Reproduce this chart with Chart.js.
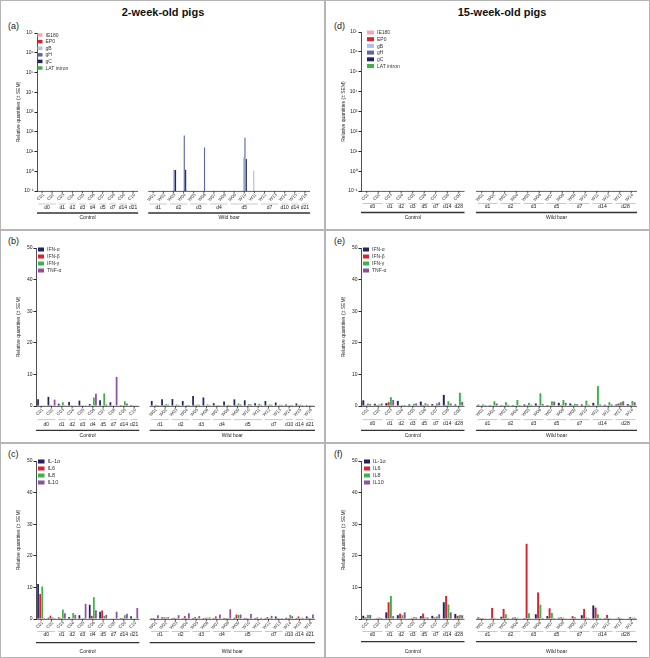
<!DOCTYPE html>
<html>
<head>
<meta charset="utf-8">
<script src="https://cdn.jsdelivr.net/npm/chart.js@4.4.1/dist/chart.umd.min.js"></script>
<style>
  body { margin: 0; background: #fff; font-family: "Liberation Sans", Arial, sans-serif; }
  #fig { position: relative; width: 650px; height: 658px; overflow: hidden; background: #fff; }
  .box { position: absolute; }
  .rule { position: absolute; background: #b5b5b5; }
  .ttl { position: absolute; font-weight: bold; font-size: 11px; color: #111; transform: translateX(-50%); white-space: nowrap; }
  .lab { position: absolute; font-size: 9px; color: #222; }
</style>
</head>
<body>
<div id="fig">
  <div class="rule" style="left:0;top:0;width:650px;height:1px"></div>
  <div class="rule" style="left:0;top:657px;width:650px;height:1px"></div>
  <div class="rule" style="left:0;top:0;width:1px;height:658px"></div>
  <div class="rule" style="left:649px;top:0;width:1px;height:658px"></div>
  <div class="rule" style="left:324px;top:0;width:1.5px;height:658px"></div>
  <div class="rule" style="left:0;top:229px;width:650px;height:1.5px"></div>
  <div class="rule" style="left:0;top:442px;width:650px;height:1.5px"></div>

  <div class="ttl" style="left:163px;top:6px">2-week-old pigs</div>
  <div class="ttl" style="left:502px;top:6px">15-week-old pigs</div>
  <div class="lab" style="left:8px;top:21px">(a)</div>
  <div class="lab" style="left:334px;top:21px">(d)</div>
  <div class="lab" style="left:8px;top:236px">(b)</div>
  <div class="lab" style="left:334px;top:236px">(e)</div>
  <div class="lab" style="left:8px;top:449px">(c)</div>
  <div class="lab" style="left:334px;top:449px">(f)</div>

  <div class="box" id="pa"></div>
  <div class="box" id="pd"></div>
  <div class="box" id="pb"></div>
  <div class="box" id="pe"></div>
  <div class="box" id="pc"></div>
  <div class="box" id="pf"></div>
</div>
<script>
// categories (the '' slot is the gap between Control and Wild boar)
var labels2 = ['C01','C02','C03','C04','C05','C06','C07','C08','C09','C10','',
  'W01','W02','W03','W04','W05','W06','W07','W08','W09','W10','W11','W12','W13','W14','W15','W16'];
var days2 = ['d0','d0','d1','d2','d3','d4','d5','d7','d14','d21','',
  'd1','d1','d2','d2','d3','d3','d4','d4','d5','d5','d5','d7','d7','d10','d14','d21'];
var labels15 = ['C01','C02','C03','C04','C05','C06','C07','C08','C09','',
  'W01','W02','W03','W04','W05','W06','W07','W08','W09','W10','W11','W12','W13','W14'];
var days15 = ['d0','d0','d1','d2','d3','d5','d7','d14','d28','',
  'd1','d1','d2','d2','d3','d3','d5','d5','d7','d7','d14','d14','d28','d28'];
var groupNames = ['Control', 'Wild boar'];
var logTicks = [0.1, 1, 10, 100, 1e3, 1e4, 1e5, 1e6, 1e7];

// (a) viral genes, 2-week-old pigs
var a_ie180 = [];
var a_ep0 = [];
var a_gB = [null,null,null,null,null,null,null,null,null,null,null,
  null,null,null,null,null,null,null,null,null,4.9,1.1,null,null,null,null,null];
var a_gH = [null,null,null,null,null,null,null,null,null,null,null,
  null,null,1.2,65,null,16,null,null,null,50,null,null,null,null,null,null];
var a_gC = [null,null,null,null,null,null,null,null,null,null,null,
  null,null,1.15,1.2,null,null,null,null,null,4.2,null,null,null,null,null,null];
var a_lat = [];

// (d) viral genes, 15-week-old pigs (nothing detected)
var d_ie180 = [], d_ep0 = [], d_gB = [], d_gH = [], d_gC = [], d_lat = [];

// (b) interferons / TNF, 2-week-old
var b_ifna = [2.1,2.9,0.7,1.3,1.7,0.6,1.8,1.2,0.3,0.3,null,1.6,2.1,2.2,1.6,3.2,2.7,0.9,1.4,2.1,1.8,0.9,1.6,1.1,0.5,0.8,0.3];
var b_ifnb = [0.2,0.3,0.2,0.1,0.1,0.1,0.2,0.2,0.2,0.1,null,0.2,0.3,0.2,0.2,0.3,0.2,0.1,0.2,0.3,0.2,0.2,0.2,0.2,0.2,0.3,0.2];
var b_ifng = [0.1,0.2,1.2,0.2,0.1,2.7,4.0,0.2,1.5,0.2,null,0.4,0.6,0.5,0.3,0.4,0.5,0.3,0.4,0.8,0.6,0.7,0.5,0.4,0.3,0.4,0.3];
var b_tnfa = [0.1,2.0,0.1,0.1,0.1,3.9,0.5,9.2,0.8,0.1,null,0.3,0.4,0.3,0.3,0.4,0.3,0.2,0.3,0.5,0.5,0.4,0.4,0.3,0.3,0.3,0.2];

// (e) interferons / TNF, 15-week-old
var e_ifna = [1.8,0.7,0.9,1.6,0.5,1.4,0.6,3.5,0.5,null,0.4,0.3,0.3,0.3,0.5,0.8,0.3,1.0,0.8,0.5,1.0,0.4,0.5,0.6];
var e_ifnb = [0.3,0.3,1.2,0.2,0.2,0.3,0.2,0.3,0.2,null,0.2,0.2,0.2,0.2,0.3,0.2,0.2,0.3,0.3,0.2,0.2,0.2,0.8,0.3];
var e_ifng = [0.8,0.5,2.8,0.3,0.7,0.9,0.8,1.5,4.2,null,0.5,1.5,1.2,1.9,1.0,4.0,1.5,1.9,0.7,1.7,6.3,1.2,1.2,1.6];
var e_tnfa = [0.6,0.8,1.9,0.3,0.8,0.5,1.2,0.8,1.3,null,0.3,0.8,0.4,0.3,0.4,0.6,1.4,1.0,0.6,0.4,0.5,0.5,1.5,1.2];

// (c) interleukins, 2-week-old
var c_il1a = [11.1,0.4,0.5,0.6,1.2,4.5,2.3,0.2,0.3,0.9,null,0.3,0.5,0.3,0.3,0.3,0.3,0.3,0.3,0.4,0.3,0.3,0.3,0.8,0.4,0.3,0.8];
var c_il6 = [7.9,1.05,0.3,0.2,0.2,1.0,2.7,0.2,0.3,0.2,null,0.3,0.5,0.4,0.9,0.6,0.4,0.8,0.3,1.4,0.3,0.5,0.6,0.3,0.3,0.8,0.3];
var c_il8 = [10.3,0.5,3.0,1.9,0.3,6.9,1.0,0.2,1.2,0.2,null,0.2,0.5,0.3,0.3,0.3,0.4,0.2,0.3,1.3,0.2,0.2,0.3,0.2,1.3,0.3,0.3];
var c_il10 = [0.3,0.3,1.8,1.3,4.8,2.8,1.3,2.3,1.7,3.5,null,1.2,0.6,1.2,1.8,0.9,0.5,1.4,3.1,1.4,1.6,0.4,1.0,0.3,0.9,0.4,1.4];

// (f) interleukins, 15-week-old
var f_il1a = [1.0,0.2,2.1,1.2,0.2,0.9,1.0,5.3,1.6,null,0.5,0.2,0.7,0.4,0.3,1.5,0.9,0.4,0.2,1.2,4.3,0.3,0.2,0.2];
var f_il6 = [0.5,0.3,5.3,1.7,0.3,1.7,0.5,7.3,1.0,null,0.3,3.5,3.2,0.5,23.8,8.4,3.4,0.5,0.9,3.2,3.6,1.3,0.5,0.6];
var f_il8 = [1.3,0.5,7.3,1.2,0.6,0.5,0.8,4.6,1.3,null,0.3,0.4,1.5,0.4,1.8,4.5,1.9,0.4,0.6,0.5,1.5,0.3,0.3,0.4];
var f_il10 = [1.3,0.3,0.9,2.1,0.5,0.5,1.5,2.1,1.2,null,0.2,0.2,0.3,0.2,0.2,0.3,0.3,0.2,0.2,0.3,0.3,0.2,0.2,0.4];

var NAVY = '#24255f', RED = '#d8242f', GREEN = '#3bb44a', PURPLE = '#8c52a0';
var PINK = '#f2a9b6', LIGHTBLUE = '#a9c3ea', SLATE = '#5c67a6';
var FONT = '"Liberation Sans", Arial, sans-serif';
var YTITLE = 'Relative quantities (\u00b1 SEM)';

Chart.defaults.font.family = FONT;
Chart.defaults.color = '#222';

function sup(n) {
    var map = {'-': '\u207b', '0': '\u2070', '1': '\u00b9', '2': '\u00b2', '3': '\u00b3',
        '4': '\u2074', '5': '\u2075', '6': '\u2076', '7': '\u2077', '8': '\u2078', '9': '\u2079'};
    return String(n).split('').map(function (c) { return map[c]; }).join('');
}

// draws broken x axis, slanted sample names, day labels, group bars and the inset legend
var groupsPlugin = {
    id: 'groups',
    afterDraw: function (chart, args, o) {
        var ctx = chart.ctx, x = chart.scales.x, area = chart.chartArea;
        var labels = chart.data.labels, n = labels.indexOf('');
        var half = (x.getPixelForValue(1) - x.getPixelForValue(0)) / 2;
        var b = area.bottom;
        var segs = [[0, n - 1], [n + 1, labels.length - 1]];
        ctx.save();
        ctx.textAlign = 'center';
        ctx.textBaseline = 'middle';

        segs.forEach(function (s, gi) {
            var x0 = x.getPixelForValue(s[0]) - half, x1 = x.getPixelForValue(s[1]) + half;
            // axis segment + tick marks
            ctx.strokeStyle = '#333';
            ctx.lineWidth = 0.8;
            ctx.beginPath();
            ctx.moveTo(x0, b + 0.4); ctx.lineTo(x1, b + 0.4);
            for (var i = s[0]; i <= s[1]; i++) {
                var px = x.getPixelForValue(i);
                ctx.moveTo(px, b); ctx.lineTo(px, b + 2);
            }
            ctx.stroke();

            // slanted sample names
            ctx.fillStyle = '#333';
            ctx.font = '4.5px ' + FONT;
            for (var k = s[0]; k <= s[1]; k++) {
                ctx.save();
                ctx.translate(x.getPixelForValue(k) + 1.5, b + 3);
                ctx.rotate(-Math.PI / 4);
                ctx.textAlign = 'right';
                ctx.fillText(labels[k], 0, 0);
                ctx.restore();
            }

            // day labels
            var i0 = s[0];
            while (i0 <= s[1]) {
                var i1 = i0;
                while (i1 + 1 <= s[1] && o.days[i1 + 1] === o.days[i0]) i1++;
                var a0 = x.getPixelForValue(i0) - half + 1.5, a1 = x.getPixelForValue(i1) + half - 1.5;
                ctx.strokeStyle = '#a5a5a5';
                ctx.lineWidth = 0.6;
                ctx.beginPath();
                ctx.moveTo(a0, b + o.dayLine); ctx.lineTo(a1, b + o.dayLine);
                ctx.stroke();
                ctx.fillStyle = '#222';
                ctx.font = '5px ' + FONT;
                ctx.fillText(o.days[i0], (a0 + a1) / 2, b + o.dayText);
                i0 = i1 + 1;
            }

            // group bar + name
            ctx.strokeStyle = '#333';
            ctx.lineWidth = 1.3;
            ctx.beginPath();
            ctx.moveTo(x0, b + o.grpLine); ctx.lineTo(x1, b + o.grpLine);
            ctx.stroke();
            ctx.fillStyle = '#222';
            ctx.font = '5px ' + FONT;
            ctx.fillText(groupNames[gi], (x0 + x1) / 2, b + o.grpText);
        });

        // legend
        var lg = o.legend;
        ctx.textAlign = 'left';
        ctx.font = lg.font + 'px ' + FONT;
        chart.data.datasets.forEach(function (ds, i) {
            var yy = area.top + lg.dy + i * lg.step;
            ctx.fillStyle = ds.backgroundColor;
            ctx.fillRect(area.left + lg.dx, yy - lg.boxH / 2, lg.boxW, lg.boxH);
            ctx.fillStyle = '#333';
            ctx.fillText(ds.label, area.left + lg.dx + lg.boxW + 3, yy + 0.3);
        });
        ctx.restore();
    }
};

function makeChart(id, o) {
    var box = o.box, area = o.area, xH = 12;
    var el = document.getElementById(id);
    el.style.left = box[0] + 'px';
    el.style.top = box[1] + 'px';
    el.style.width = box[2] + 'px';
    el.style.height = box[3] + 'px';
    var canvas = document.createElement('canvas');
    el.appendChild(canvas);

    var yAxis = {
        grid: { display: true, drawOnChartArea: false, drawTicks: true, tickLength: 2.5, color: '#222' },
        border: { display: true, color: '#222', width: 0.8 },
        ticks: { font: { size: 5 }, padding: 1, color: '#222' },
        title: { display: true, text: YTITLE, font: { size: 5 }, color: '#222', padding: { top: 14, bottom: 0 } },
        afterFit: function (s) { s.width = area[0] - box[0]; }
    };
    if (o.log) {
        yAxis.type = 'logarithmic';
        yAxis.min = 0.1;
        yAxis.max = 1e7;
        yAxis.afterBuildTicks = function (s) {
            s.ticks = logTicks.map(function (v) { return { value: v }; });
        };
        yAxis.ticks.callback = function (v) { return '10' + sup(Math.round(Math.log10(v))); };
    } else {
        yAxis.min = 0;
        yAxis.max = 50;
        yAxis.ticks.stepSize = 10;
    }

    new Chart(canvas, {
        type: 'bar',
        data: {
            labels: o.labels,
            datasets: o.series.map(function (s) {
                return { label: s[0], data: s[1], backgroundColor: s[2], borderWidth: 0,
                    categoryPercentage: 0.8, barPercentage: 0.85 };
            })
        },
        options: {
            responsive: true,
            maintainAspectRatio: false,
            animation: false,
            layout: {
                padding: {
                    left: 0,
                    top: area[1] - box[1],
                    right: box[0] + box[2] - area[2],
                    bottom: box[1] + box[3] - area[3] - xH
                }
            },
            plugins: {
                legend: { display: false },
                tooltip: { enabled: false },
                groups: o.groups
            },
            scales: {
                x: {
                    grid: { display: false },
                    border: { display: false },
                    ticks: { display: false },
                    afterFit: function (s) { s.height = xH; }
                },
                y: yAxis
            }
        },
        plugins: [groupsPlugin]
    });
}

var virLegend = ['IE180', 'EP0', 'gB', 'gH', 'gC', 'LAT intron'];
var ifnLegend = ['IFN-\u03b1', 'IFN-\u03b2', 'IFN-\u03b3', 'TNF-\u03b1'];
var ilLegend = ['IL-1\u03b1', 'IL6', 'IL8', 'IL10'];

makeChart('pa', {
    box: [2, 18, 321, 210], area: [37, 33, 310, 191], log: true, labels: labels2,
    series: [[virLegend[0], a_ie180, PINK], [virLegend[1], a_ep0, RED], [virLegend[2], a_gB, LIGHTBLUE],
        [virLegend[3], a_gH, SLATE], [virLegend[4], a_gC, NAVY], [virLegend[5], a_lat, GREEN]],
    groups: { days: days2, dayLine: 13, dayText: 17, grpLine: 22, grpText: 27,
        legend: { dx: 0.5, dy: 2, step: 6.6, boxW: 5, boxH: 3.5, font: 5 } }
});
makeChart('pd', {
    box: [327, 18, 321, 210], area: [361, 32, 637, 191], log: true, labels: labels15,
    series: [[virLegend[0], d_ie180, PINK], [virLegend[1], d_ep0, RED], [virLegend[2], d_gB, LIGHTBLUE],
        [virLegend[3], d_gH, SLATE], [virLegend[4], d_gC, NAVY], [virLegend[5], d_lat, GREEN]],
    groups: { days: days15, dayLine: 12.5, dayText: 16, grpLine: 21.5, grpText: 27,
        legend: { dx: 6, dy: 0.5, step: 6.7, boxW: 7, boxH: 4, font: 5 } }
});
makeChart('pb', {
    box: [2, 232, 321, 209], area: [36, 248, 315, 406], log: false, labels: labels2,
    series: [[ifnLegend[0], b_ifna, NAVY], [ifnLegend[1], b_ifnb, RED], [ifnLegend[2], b_ifng, GREEN],
        [ifnLegend[3], b_tnfa, PURPLE]],
    groups: { days: days2, dayLine: 13.6, dayText: 18.3, grpLine: 24.3, grpText: 29.6,
        legend: { dx: 2, dy: 1.5, step: 7, boxW: 6, boxH: 4, font: 5 } }
});
makeChart('pe', {
    box: [327, 232, 321, 209], area: [361, 248, 637, 406], log: false, labels: labels15,
    series: [[ifnLegend[0], e_ifna, NAVY], [ifnLegend[1], e_ifnb, RED], [ifnLegend[2], e_ifng, GREEN],
        [ifnLegend[3], e_tnfa, PURPLE]],
    groups: { days: days15, dayLine: 13.6, dayText: 17.6, grpLine: 24.3, grpText: 29.6,
        legend: { dx: 2, dy: 1.5, step: 7, boxW: 6, boxH: 4, font: 5 } }
});
makeChart('pc', {
    box: [2, 445, 321, 211], area: [36, 461, 315, 619], log: false, labels: labels2,
    series: [[ilLegend[0], c_il1a, NAVY], [ilLegend[1], c_il6, RED], [ilLegend[2], c_il8, GREEN],
        [ilLegend[3], c_il10, PURPLE]],
    groups: { days: days2, dayLine: 12.5, dayText: 16, grpLine: 23.7, grpText: 33,
        legend: { dx: 2, dy: 0.5, step: 7, boxW: 6.5, boxH: 4, font: 5.5 } }
});
makeChart('pf', {
    box: [327, 445, 321, 211], area: [361, 461, 637, 619], log: false, labels: labels15,
    series: [[ilLegend[0], f_il1a, NAVY], [ilLegend[1], f_il6, RED], [ilLegend[2], f_il8, GREEN],
        [ilLegend[3], f_il10, PURPLE]],
    groups: { days: days15, dayLine: 12.5, dayText: 15.5, grpLine: 22.7, grpText: 33,
        legend: { dx: 3, dy: 0.5, step: 7, boxW: 6, boxH: 4, font: 5.5 } }
});
</script>
</body>
</html>
